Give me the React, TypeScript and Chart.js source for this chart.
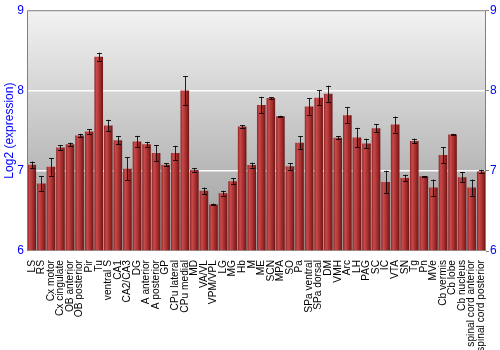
import React, { useEffect, useRef } from "react";
import { Chart, registerables } from "chart.js";

Chart.register(...registerables);

const categories = [
  "LS", "RS", "Cx motor", "Cx cingulate", "OB anterior", "OB posterior", "Pir", "Tu",
  "ventral S", "CA1", "CA2/CA3", "DG", "A anterior", "A posterior", "GP", "CPu lateral",
  "CPu medial", "MD", "VA/VL", "VPM/VPL", "LG", "MG", "Hb", "M", "ME", "SCN", "MPA", "SO",
  "Pa", "SPa ventral", "SPa dorsal", "DM", "VMH", "Arc", "LH", "PAG", "SC", "IC", "VTA",
  "SN", "Tg", "Pn", "MVe", "Cb vermis", "Cb lobe", "Cb nucleus", "spinal cord anterior",
  "spinal cord posterior",
];

const values = [
  7.075, 6.84, 7.05, 7.29, 7.33, 7.44, 7.49, 8.42,
  7.565, 7.38, 7.025, 7.365, 7.33, 7.22, 7.075, 7.22,
  8.0, 7.01, 6.75, 6.58, 6.72, 6.87, 7.55, 7.07, 7.82, 7.905, 7.68, 7.055,
  7.35, 7.8, 7.91, 7.96, 7.41, 7.69, 7.415, 7.34, 7.53, 6.86, 7.575,
  6.91, 7.37, 6.93, 6.79, 7.195, 7.45, 6.92, 6.79,
  6.99,
];

const errors = [
  0.04, 0.09, 0.11, 0.03, 0.02, 0.02, 0.03, 0.05,
  0.07, 0.05, 0.14, 0.07, 0.03, 0.1, 0.02, 0.09,
  0.18, 0.02, 0.04, 0.01, 0.03, 0.04, 0.015, 0.03, 0.1, 0.01, 0.005, 0.04,
  0.08, 0.1, 0.09, 0.1, 0.02, 0.1, 0.12, 0.06, 0.05, 0.14, 0.1,
  0.04, 0.03, 0.005, 0.1, 0.1, 0.01, 0.06, 0.1,
  0.02,
];

const yTicks = [6, 7, 8, 9];

const FONT = "'Liberation Sans', Arial, sans-serif";

const bgPlugin = {
  id: "bgPlugin",
  beforeDraw(chart: any) {
    const { ctx, chartArea } = chart;
    if (!chartArea) return;
    const g = ctx.createLinearGradient(0, chartArea.top, 0, chartArea.bottom);
    g.addColorStop(0, "#f2f2f2");
    g.addColorStop(1, "#9a9a9a");
    ctx.save();
    ctx.fillStyle = g;
    ctx.fillRect(chartArea.left, chartArea.top, chartArea.right - chartArea.left, chartArea.bottom - chartArea.top);
    ctx.restore();
  },
  afterDraw(chart: any) {
    const { ctx, chartArea } = chart;
    ctx.save();
    ctx.strokeStyle = "#808080";
    ctx.lineWidth = 1;
    ctx.beginPath();
    ctx.moveTo(chartArea.left + 0.5, chartArea.bottom);
    ctx.lineTo(chartArea.left + 0.5, chartArea.top + 0.5);
    ctx.lineTo(chartArea.right - 0.5, chartArea.top + 0.5);
    ctx.lineTo(chartArea.right - 0.5, chartArea.bottom);
    ctx.stroke();
    ctx.restore();
  },
};

const errorPlugin = {
  id: "errorPlugin",
  afterDatasetsDraw(chart: any) {
    const { ctx } = chart;
    const meta = chart.getDatasetMeta(0);
    const ys = chart.scales.y;
    ctx.save();
    meta.data.forEach((el: any, i: number) => {
      const v = values[i];
      const e = errors[i];
      const x = Math.round(el.x) + 0.5;
      const yt = ys.getPixelForValue(v + e);
      const yb = ys.getPixelForValue(v - e);
      ctx.strokeStyle = "rgba(0,0,0,0.85)";
      ctx.lineWidth = 1;
      ctx.beginPath();
      ctx.moveTo(x, yt);
      ctx.lineTo(x, yb);
      ctx.moveTo(x - 2.5, Math.round(yt) + 0.5);
      ctx.lineTo(x + 2.5, Math.round(yt) + 0.5);
      ctx.moveTo(x - 2.5, Math.round(yb) + 0.5);
      ctx.lineTo(x + 2.5, Math.round(yb) + 0.5);
      ctx.stroke();
    });
    ctx.restore();
  },
};

export default function App() {
  const ref = useRef<HTMLCanvasElement | null>(null);

  useEffect(() => {
    document.body.style.margin = "0";
    const canvas = ref.current;
    if (!canvas) return;
    const chart = new Chart(canvas, {
      type: "bar",
      data: {
        labels: categories,
        datasets: [
          {
            data: values,
            base: 6,
            barPercentage: 0.9,
            categoryPercentage: 1,
            borderWidth: 0,
            backgroundColor: (c: any) => {
              const ch = c.chart;
              const xs = ch.scales?.x;
              if (!ch.chartArea || !xs || c.dataIndex === undefined) return "#a83232";
              const cx = xs.getPixelForValue(c.dataIndex);
              const w = ((ch.chartArea.right - ch.chartArea.left) / categories.length) * 0.9;
              const g = ch.ctx.createLinearGradient(cx - w / 2, 0, cx + w / 2, 0);
              g.addColorStop(0, "#8c2424");
              g.addColorStop(0.25, "#c94a4a");
              g.addColorStop(0.6, "#a83030");
              g.addColorStop(1, "#6e1414");
              return g;
            },
          } as any,
        ],
      },
      options: {
        animation: false,
        responsive: false,
        maintainAspectRatio: false,
        layout: { padding: { top: 10, left: 0, right: 0, bottom: 0 } },
        plugins: { legend: { display: false }, tooltip: { enabled: false } },
        scales: {
          x: {
            grid: { display: false },
            border: { display: false },
            ticks: {
              autoSkip: false,
              maxRotation: 90,
              minRotation: 90,
              color: "#000",
              padding: 1,
              font: { family: FONT, size: 10.2 },
            },
            afterFit: (s: any) => {
              s.height = 99;
            },
          },
          y: {
            position: "left",
            min: 6,
            max: 9,
            afterBuildTicks: (s: any) => {
              s.ticks = yTicks.map((v) => ({ value: v }));
            },
            grid: {
              drawTicks: false,
              color: (c: any) => (c.tick && (c.tick.value === 7 || c.tick.value === 8) ? "rgba(255,255,255,0.95)" : "rgba(0,0,0,0)"),
              lineWidth: 1.5,
            },
            border: { display: false },
            ticks: {
              color: "#0000ff",
              padding: 3,
              font: { family: FONT, size: 12 },
            },
            title: {
              display: true,
              text: "Log2 (expression)",
              color: "#0000ff",
              font: { family: FONT, size: 12 },
              padding: { top: 2, bottom: 0 },
            },
            afterFit: (s: any) => {
              s.width = 27;
            },
          },
          y2: {
            position: "right",
            min: 6,
            max: 9,
            afterBuildTicks: (s: any) => {
              s.ticks = yTicks.map((v) => ({ value: v }));
            },
            grid: { drawOnChartArea: false, drawTicks: true, tickLength: 3, color: "#808080" },
            border: { display: false },
            ticks: {
              color: "#0000ff",
              padding: 1,
              font: { family: FONT, size: 12 },
            },
            afterFit: (s: any) => {
              s.width = 14;
            },
          },
        },
      } as any,
      plugins: [bgPlugin, errorPlugin],
    });
    return () => chart.destroy();
  }, []);

  return (
    <div style={{ width: 500, height: 350 }}>
      <canvas ref={ref} width={500} height={350} style={{ width: 500, height: 350, display: "block" }} />
    </div>
  );
}
